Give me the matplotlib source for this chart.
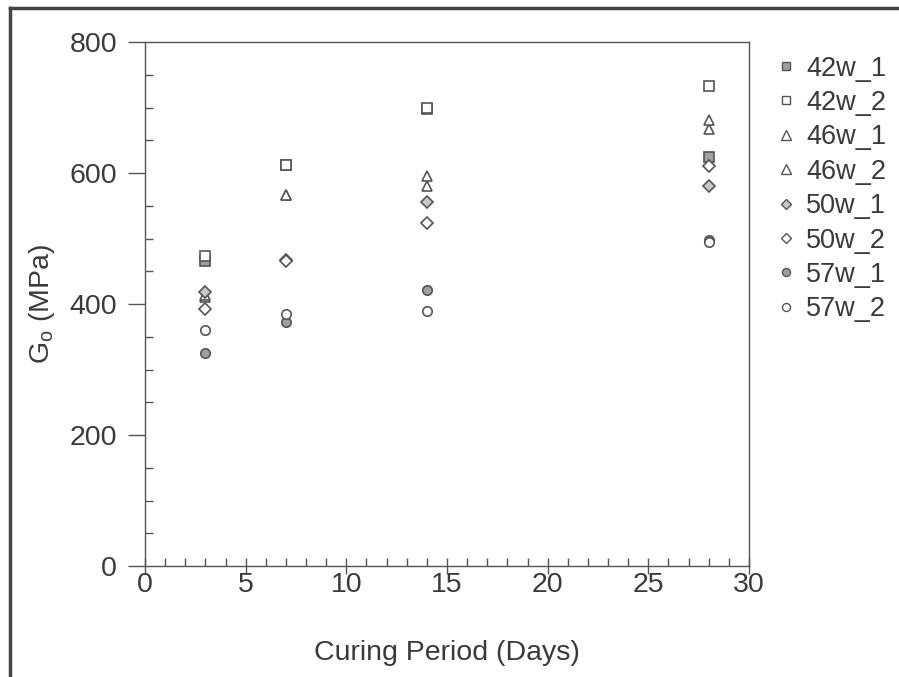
import matplotlib
matplotlib.use("Agg")
import matplotlib.pyplot as plt
from matplotlib.lines import Line2D
from matplotlib.ticker import MultipleLocator

plt.rcParams['font.family'] = ['Liberation Sans', 'DejaVu Sans']
plt.rcParams['mathtext.fontset'] = 'custom'
plt.rcParams['mathtext.rm'] = 'Liberation Sans'
plt.rcParams['mathtext.it'] = 'Liberation Sans'

# Curing period (days) and small-strain shear modulus Go (MPa)
days = [3, 7, 14, 28]
series_names = ["42w_1", "42w_2", "46w_1", "46w_2", "50w_1", "50w_2", "57w_1", "57w_2"]
g0_42w_1 = [465, 612, 698, 625]
g0_42w_2 = [474, 612, 699, 733]
g0_46w_1 = [410, 566, 580, 667]
g0_46w_2 = [413, 566, 596, 681]
g0_50w_1 = [419, 467, 556, 580]
g0_50w_2 = [392, 465, 524, 611]
g0_57w_1 = [325, 373, 422, 497]
g0_57w_2 = [361, 385, 389, 495]

series_values = [g0_42w_1, g0_42w_2, g0_46w_1, g0_46w_2,
                 g0_50w_1, g0_50w_2, g0_57w_1, g0_57w_2]

edge = "#555555"
fill = "#a0a0a0"
styles = [
    dict(marker="s", mfc=fill, ms=6.8),
    dict(marker="s", mfc="white", ms=6.8),
    dict(marker="^", mfc="white", ms=7.8),
    dict(marker="^", mfc="white", ms=7.8),
    dict(marker="D", mfc="#c8c8c8", ms=5.8),
    dict(marker="D", mfc="white", ms=5.8),
    dict(marker="o", mfc=fill, ms=6.8),
    dict(marker="o", mfc="white", ms=6.8),
]

fig = plt.figure(figsize=(8.99, 6.77), dpi=100)
ax = fig.add_axes([145 / 899, 1 - 566 / 677, (749 - 145) / 899, (566 - 42) / 677])

for name, vals, st in zip(series_names, series_values, styles):
    ax.plot(days, vals, linestyle="none", marker=st["marker"],
            markersize=st["ms"], markerfacecolor=st["mfc"],
            markeredgecolor=edge, markeredgewidth=1.2, label=name)

ax.set_xlim(0, 30)
ax.set_ylim(0, 800)
ax.xaxis.set_major_locator(MultipleLocator(5))
ax.xaxis.set_minor_locator(MultipleLocator(1))
ax.yaxis.set_major_locator(MultipleLocator(200))
ax.yaxis.set_minor_locator(MultipleLocator(50))

axis_col = "#555555"
text_col = "#3a3a3a"
for sp in ax.spines.values():
    sp.set_color(axis_col)
    sp.set_linewidth(1.0)

ax.tick_params(axis="x", which="major", direction="inout", length=11, width=1,
               color=axis_col, labelsize=20.5, labelcolor=text_col, pad=-1)
ax.tick_params(axis="x", which="minor", direction="in", length=6, width=1,
               color=axis_col)
ax.tick_params(axis="y", which="major", direction="out", length=12, width=1,
               color=axis_col, labelsize=20.5, labelcolor=text_col, pad=8)
ax.tick_params(axis="y", which="minor", direction="in", length=6, width=1,
               color=axis_col)

ax.set_xlabel("Curing Period (Days)", fontsize=20.5, color=text_col, labelpad=30)
ax.set_ylabel(r"G$_\mathregular{o}$ (MPa)", fontsize=20.5, color=text_col, labelpad=9)

leg_handles = []
for name, st in zip(series_names, styles):
    leg_handles.append(Line2D([], [], linestyle="none", marker=st["marker"],
                              markersize=st["ms"] * 0.85, markerfacecolor=st["mfc"],
                              markeredgecolor=edge, markeredgewidth=1.0))
leg = fig.legend(leg_handles, series_names, loc="upper left",
                 bbox_to_anchor=(764 / 899, 1 - 42 / 677), frameon=False,
                 fontsize=19.5, handlelength=0.6, handletextpad=0.45,
                 labelspacing=0.31, borderpad=0)
for t in leg.get_texts():
    t.set_color(text_col)

# outer frame lines on the left and top
fig.add_artist(Line2D([10 / 899, 10 / 899], [0, 1 - 8 / 677],
                      transform=fig.transFigure, color="#444444", lw=2.5))
fig.add_artist(Line2D([10 / 899, 1], [1 - 8 / 677, 1 - 8 / 677],
                      transform=fig.transFigure, color="#444444", lw=2.5))

fig.savefig("out.png", dpi=100)
